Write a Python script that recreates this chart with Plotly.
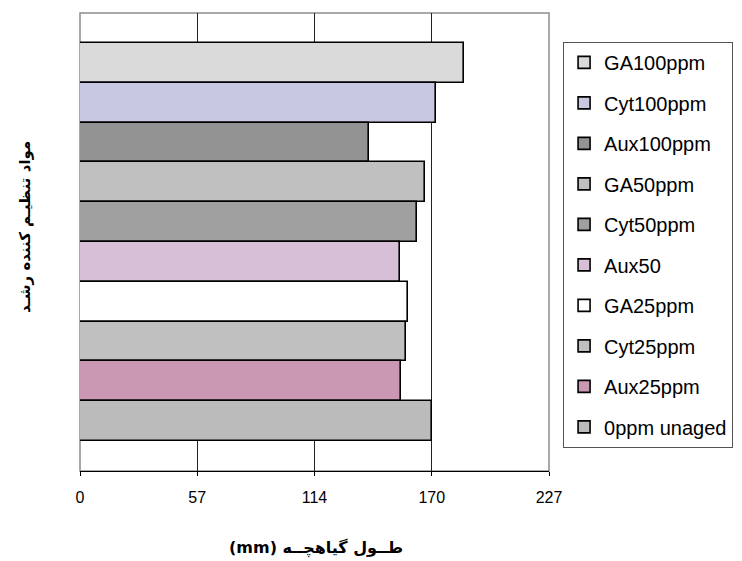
import plotly.graph_objects as go

# Seedling length (mm) per growth-regulator treatment, listed top to bottom
treatments = ["GA100ppm", "Cyt100ppm", "Aux100ppm", "GA50ppm", "Cyt50ppm",
              "Aux50", "GA25ppm", "Cyt25ppm", "Aux25ppm", "0ppm unaged"]
lengths = [185.9, 172.2, 140.0, 167.1, 162.9, 154.7, 158.9, 157.9, 155.3, 170.3]
colors = ["#DADADA", "#C8C8E2", "#939393", "#C0C0C0", "#A0A0A0",
          "#D8BFD8", "#FFFFFF", "#C0C0C0", "#CB98B4", "#BBBBBB"]

tick_vals = [0, 56.75, 113.5, 170.25, 227]
tick_text = ["0", "57", "114", "170", "227"]

x_title = "(mm) طــول گیاهچــه"
y_title = "مواد تنظیـم کننده رشـد"

fig = go.Figure()
for name, val, col in zip(treatments, lengths, colors):
    fig.add_trace(go.Bar(
        y=[name], x=[val], name=name, orientation="h",
        marker=dict(color=col, line=dict(color="black", width=1.6)),
        legendgroup=name,
    ))

fig.update_layout(
    width=742, height=561,
    margin=dict(l=80, r=193, t=13, b=90, autoexpand=False),
    paper_bgcolor="white", plot_bgcolor="white",
    barmode="overlay", bargap=0,
    font=dict(family="Liberation Sans, Arial, sans-serif", color="black"),
    showlegend=True,
    legend=dict(
        x=1.03, xanchor="left", y=0.937, yanchor="top",
        traceorder="grouped", tracegroupgap=11.5,
        bordercolor="#555555", borderwidth=1,
        font=dict(size=20, family="Liberation Sans, Arial, sans-serif"),
        itemclick=False,
    ),
    xaxis=dict(
        range=[0, 227], tickvals=tick_vals, ticktext=tick_text,
        showgrid=True, gridcolor="#222222", gridwidth=1,
        zeroline=False, showline=True, linecolor="black", linewidth=1,
        ticks="outside", ticklen=4, tickcolor="black",
        tickfont=dict(size=16), ticklabelstandoff=8,
    ),
    yaxis=dict(
        type="category", categoryorder="array",
        categoryarray=treatments[::-1],
        range=[-1.256, 10.256], showticklabels=False, showgrid=False,
        zeroline=False, showline=False, ticks="",
    ),
    shapes=[dict(
        type="rect", xref="paper", yref="paper", x0=0, x1=1, y0=0, y1=1,
        line=dict(color="#8c8c8c", width=1.5), layer="between",
    )],
    annotations=[
        dict(text=f"<b>{x_title}</b>", xref="paper", yref="paper",
             x=0.503, y=-0.168, xanchor="center", yanchor="middle",
             showarrow=False,
             font=dict(size=16, family="DejaVu Sans, Liberation Sans, sans-serif")),
        dict(text=f"<b>{y_title}</b>", xref="paper", yref="paper",
             x=-0.117, y=0.533, xanchor="center", yanchor="middle",
             textangle=-90, showarrow=False,
             font=dict(size=15, family="DejaVu Sans, Liberation Sans, sans-serif")),
    ],
)

fig.write_html("out.html")
